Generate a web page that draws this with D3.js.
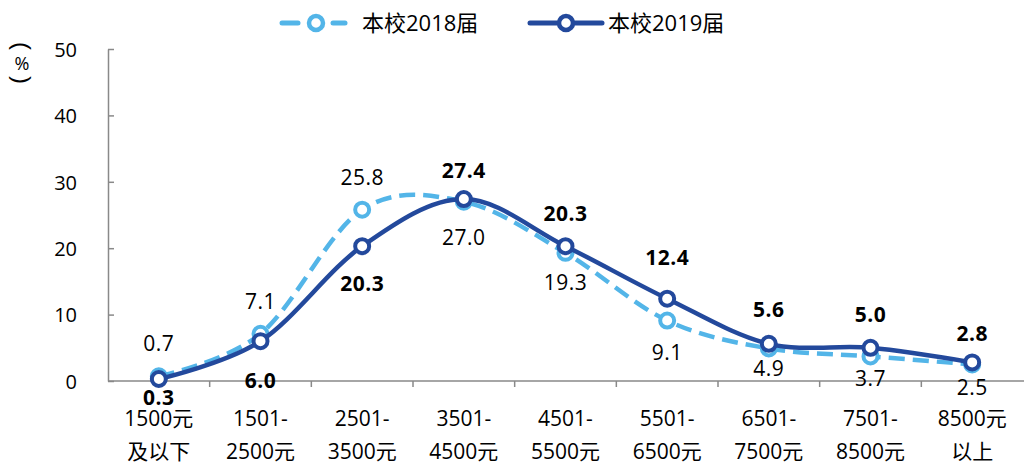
<!DOCTYPE html>
<html>
<head>
<meta charset="utf-8">
<script src="https://cdn.jsdelivr.net/npm/d3@7"></script>
<style>
  body { margin: 0; background: #fff; }
  text { font-family: "Open Sans", "Noto Sans CJK SC", sans-serif; fill: #000; }
</style>
</head>
<body>
<svg id="chart" width="1024" height="466"></svg>
<script>
// categories: two lines each
const categories = [
    ["1500元", "及以下"], ["1501-", "2500元"], ["2501-", "3500元"], ["3501-", "4500元"],
    ["4501-", "5500元"], ["5501-", "6500元"], ["6501-", "7500元"], ["7501-", "8500元"], ["8500元", "以上"]
];
const seriesNames = ["本校2018届", "本校2019届"];
const values2018 = [0.7, 7.1, 25.8, 27.0, 19.3, 9.1, 4.9, 3.7, 2.5];
const values2019 = [0.3, 6.0, 20.3, 27.4, 20.3, 12.4, 5.6, 5.0, 2.8];
const yTicks = [0, 10, 20, 30, 40, 50];

// label offsets from the marker (px, negative = above), layout only
const offsets2018 = [-33, -32, -32, 36, 30, 32, 20, 22, 23];
const offsets2019 = [18, 39, 37, -29, -33, -41, -34, -33, -29];

const light = "#53b5e8", dark = "#23499c";

const svg = d3.select("#chart");
const margin = {left: 108, right: 1, top: 49, bottom: 85};
const W = 1024, H = 466;

const x = d3.scaleBand().domain(d3.range(categories.length)).range([margin.left, W - margin.right]);
const y = d3.scaleLinear().domain([0, 50]).range([H - margin.bottom, margin.top]);

// y axis, ticks pointing inward
const yAxis = svg.append("g").attr("transform", `translate(${margin.left},0)`)
    .call(d3.axisLeft(y).tickValues(yTicks).tickSizeOuter(0));
yAxis.select(".domain").attr("stroke", "#898989").attr("stroke-width", 1.5);
yAxis.selectAll(".tick line").attr("stroke", "#898989").attr("stroke-width", 1.5).attr("x1", 0).attr("x2", 6);
yAxis.selectAll(".tick text").style("font-size", "20px").attr("x", -31).attr("dy", "0.36em");

// x axis
const xAxisG = svg.append("g").attr("transform", `translate(0,${y(0)})`);
xAxisG.append("line").attr("x1", margin.left).attr("x2", W).attr("y1", 0).attr("y2", 0)
    .attr("stroke", "#898989").attr("stroke-width", 1.5);
xAxisG.selectAll("line.tk").data(d3.range(1, categories.length)).enter().append("line")
    .attr("class", "tk")
    .attr("x1", d => x(d)).attr("x2", d => x(d)).attr("y1", 0).attr("y2", 6)
    .attr("stroke", "#898989").attr("stroke-width", 1.5);
categories.forEach((c, i) => {
    const t = xAxisG.append("text").attr("text-anchor", "middle").style("font-size", "21px");
    t.append("tspan").attr("x", x(i) + x.bandwidth() / 2).attr("y", 45).text(c[0]);
    t.append("tspan").attr("x", x(i) + x.bandwidth() / 2).attr("y", 78).text(c[1]);
});

// unit label: brackets turned on their side around %
const unit = svg.append("g").attr("transform", "translate(22,0)");
unit.append("text").attr("transform", "translate(0,46) rotate(90)")
    .attr("text-anchor", "middle").attr("dominant-baseline", "central")
    .style("font-family", "'Liberation Sans', sans-serif").style("font-size", "24px").text("(");
unit.append("text").attr("y", 63).attr("text-anchor", "middle").attr("dominant-baseline", "central")
    .style("font-size", "18px").text("%");
unit.append("text").attr("transform", "translate(0,80) rotate(90)")
    .attr("text-anchor", "middle").attr("dominant-baseline", "central")
    .style("font-family", "'Liberation Sans', sans-serif").style("font-size", "24px").text(")");

const cx = i => x(i) + x.bandwidth() / 2;
const line = d3.line().x((d, i) => cx(i)).y(d => y(d)).curve(d3.curveCardinal.tension(0));

function drawSeries(vals, color, dashed) {
    svg.append("path").datum(vals).attr("d", line)
        .attr("fill", "none").attr("stroke", color).attr("stroke-width", 4.5)
        .attr("stroke-dasharray", dashed ? "16,8" : null);
    svg.selectAll(null).data(vals).enter().append("circle")
        .attr("cx", (d, i) => cx(i)).attr("cy", d => y(d)).attr("r", 7)
        .attr("fill", "#fff").attr("stroke", color).attr("stroke-width", 4);
}
drawSeries(values2018, light, true);
drawSeries(values2019, dark, false);

function drawLabels(vals, offs, bold) {
    svg.selectAll(null).data(vals).enter().append("text")
        .attr("x", (d, i) => cx(i))
        .attr("y", (d, i) => y(d) + offs[i])
        .attr("dy", "0.36em")
        .attr("text-anchor", "middle")
        .style("font-size", "21px")
        .style("letter-spacing", "0.5px")
        .style("font-weight", bold ? "bold" : "normal")
        .text(d => d.toFixed(1));
}
drawLabels(values2018, offsets2018, false);
drawLabels(values2019, offsets2019, true);

// legend
const legend = svg.append("g").attr("transform", "translate(282,23)");
[[light, true], [dark, false]].forEach((s, i) => {
    const g = legend.append("g").attr("transform", `translate(${i * 248},0)`);
    if (s[1]) {
        g.append("line").attr("x1", 0).attr("x2", 16).attr("stroke", s[0]).attr("stroke-width", 5).attr("stroke-linecap", "round");
        g.append("line").attr("x1", 51).attr("x2", 63).attr("stroke", s[0]).attr("stroke-width", 5).attr("stroke-linecap", "round");
    } else {
        g.append("line").attr("x1", 0).attr("x2", 72).attr("stroke", s[0]).attr("stroke-width", 5).attr("stroke-linecap", "round");
    }
    const c = s[1] ? 34 : 36;
    g.append("circle").attr("cx", c).attr("r", 7).attr("fill", "#fff").attr("stroke", s[0]).attr("stroke-width", 4.5);
    g.append("text").attr("x", s[1] ? 80 : 78).attr("y", 8).style("font-size", "22px").text(seriesNames[i]);
});
</script>
</body>
</html>
